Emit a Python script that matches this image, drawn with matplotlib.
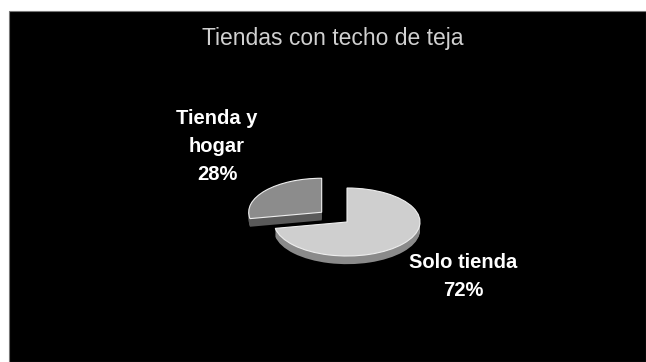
import numpy as np
import matplotlib.pyplot as plt
from matplotlib.patches import Rectangle

# data
labels = ['Solo tienda', 'Tienda y\nhogar']
shares = [72, 28]
explode = [0.0, 0.45]
title = 'Tiendas con techo de teja'

top_colors = ['#cfcfcf', '#8c8c8c']
side_colors = ['#8a8a8a', '#5a5a5a']

W, H = 646, 362
fig = plt.figure(figsize=(W / 100, H / 100), dpi=100)
fig.patch.set_facecolor('white')

# black slide background
fig.patches.append(Rectangle((9 / W, 0), 1 - 9 / W, (H - 11) / H,
                             transform=fig.transFigure, facecolor='black',
                             edgecolor='#777777', lw=0.8, zorder=-5))

# pie axes: ellipse centre (347, 222) px, semi axes 73 x 34 px
cx, cy, rx, ry = 347, 222, 73, 34
ax = fig.add_axes([(cx - 2 * rx) / W, (H - cy - 2 * ry) / H, 4 * rx / W, 4 * ry / H])
ax.axis('off')
ax.set_zorder(2)

depth = 0.24
for d in np.linspace(depth, 0.02, 10):
    w, _ = ax.pie(shares, explode=explode, startangle=90, counterclock=False,
                  colors=side_colors, center=(0, -d), radius=1,
                  wedgeprops=dict(linewidth=0))
w, _ = ax.pie(shares, explode=explode, startangle=90, counterclock=False,
              colors=top_colors, center=(0, 0), radius=1,
              wedgeprops=dict(linewidth=0.8, edgecolor='#eeeeee'))
ax.set_aspect('auto')
ax.set_xlim(-2, 2)
ax.set_ylim(-2, 2)

# texts
fig.text(333 / W, 1 - 38 / H, title, ha='center', va='center',
         fontsize=16.5, color='#d0d0d0', family='Liberation Sans')
fig.text(463 / W, 1 - 276 / H, f'{labels[0]}\n{shares[0]}%', ha='center',
         va='center', fontsize=14.5, fontweight='bold', color='white',
         family='Liberation Sans', linespacing=1.6)
fig.text(217 / W, 1 - 147 / H, f'{labels[1]}\n{shares[1]}%', ha='center',
         va='center', fontsize=14.5, fontweight='bold', color='white',
         family='Liberation Sans', linespacing=1.6)

fig.savefig('out.png', dpi=100, facecolor=fig.get_facecolor())
